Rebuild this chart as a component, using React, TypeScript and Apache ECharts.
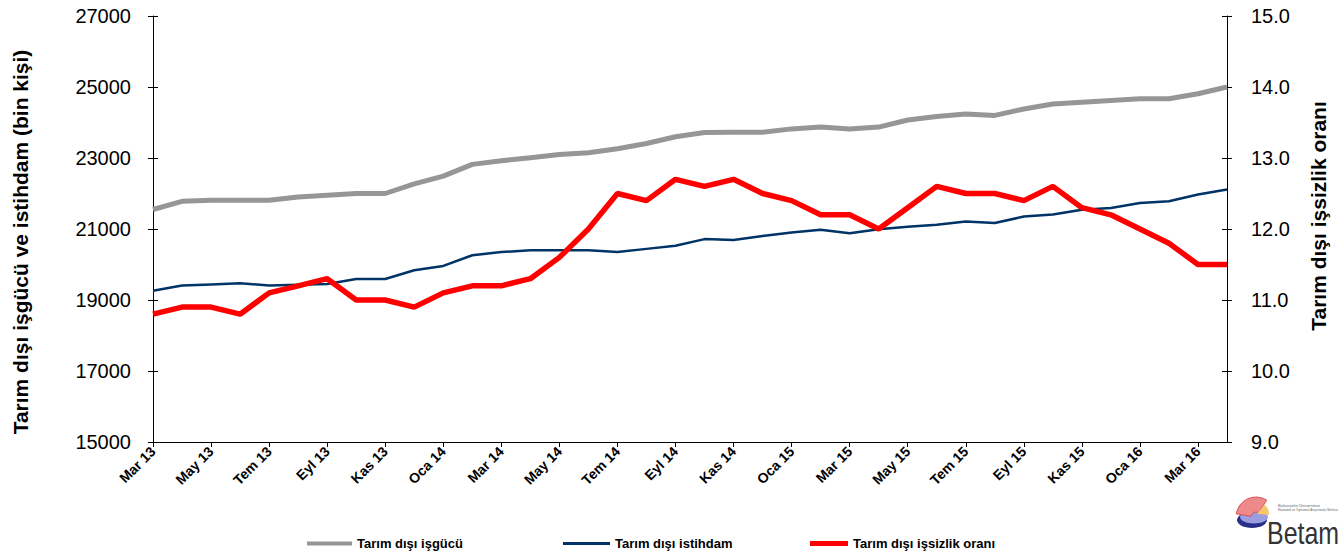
import React, { useEffect, useRef } from "react";
import * as echarts from "echarts";

const categories: string[] = [
  "Mar 13", "Nis 13", "May 13", "Haz 13", "Tem 13", "Ağu 13", "Eyl 13", "Eki 13", "Kas 13", "Ara 13",
  "Oca 14", "Şub 14", "Mar 14", "Nis 14", "May 14", "Haz 14", "Tem 14", "Ağu 14", "Eyl 14", "Eki 14", "Kas 14", "Ara 14",
  "Oca 15", "Şub 15", "Mar 15", "Nis 15", "May 15", "Haz 15", "Tem 15", "Ağu 15", "Eyl 15", "Eki 15", "Kas 15", "Ara 15",
  "Oca 16", "Şub 16", "Mar 16", "Nis 16",
];

const isgucu: number[] = [
  21550, 21780, 21810, 21810, 21810, 21900, 21950, 22000, 22000, 22270,
  22490, 22820, 22920, 23010, 23100, 23150, 23260, 23410, 23600, 23720,
  23725, 23725, 23820, 23870, 23820, 23870, 24070, 24170, 24240, 24200,
  24380, 24520, 24570, 24620, 24670, 24670, 24810, 25000,
];

const istihdam: number[] = [
  19260, 19410, 19440, 19470, 19410, 19430, 19450, 19590, 19590, 19840,
  19960, 20260, 20350, 20400, 20400, 20400, 20350, 20440, 20530, 20715,
  20690, 20800, 20900, 20980, 20880, 20990, 21060, 21120, 21210, 21170,
  21350, 21410, 21540, 21590, 21730, 21780, 21970, 22110,
];

const issizlikOrani: number[] = [
  10.8, 10.9, 10.9, 10.8, 11.1, 11.2, 11.3, 11.0, 11.0, 10.9,
  11.1, 11.2, 11.2, 11.3, 11.6, 12.0, 12.5, 12.4, 12.7, 12.6,
  12.7, 12.5, 12.4, 12.2, 12.2, 12.0, 12.3, 12.6, 12.5, 12.5,
  12.4, 12.6, 12.3, 12.2, 12.0, 11.8, 11.5, 11.5,
];

const seriesNames = ["Tarım dışı işgücü", "Tarım dışı istihdam", "Tarım dışı işsizlik oranı"];
const leftAxisName = "Tarım dışı işgücü ve istihdam (bin kişi)";
const rightAxisName = "Tarım dışı işsizlik oranı";

const FONT = "'Liberation Sans', Arial, sans-serif";

export default function App() {
  const ref = useRef<HTMLDivElement>(null);
  useEffect(() => {
    if (!ref.current) return;
    const chart = echarts.init(ref.current, null, { renderer: "svg" });
    const legendText = { fontFamily: FONT, fontWeight: "bold" as const, fontSize: 13, color: "#000" };
    chart.setOption({
      animation: false,
      backgroundColor: "#fff",
      textStyle: { fontFamily: FONT },
      grid: { left: 153, right: 116, top: 16, bottom: 111, containLabel: false },
      legend: [
        { data: [seriesNames[0]], icon: "rect", left: 302, top: 532, itemWidth: 45, itemHeight: 4, itemGap: 5, textStyle: legendText },
        { data: [seriesNames[1]], icon: "rect", left: 558, top: 532, itemWidth: 47, itemHeight: 3, itemGap: 5, textStyle: legendText },
        { data: [seriesNames[2]], icon: "rect", left: 805, top: 532, itemWidth: 38, itemHeight: 5, itemGap: 5, textStyle: legendText },
      ],
      xAxis: {
        type: "category",
        data: categories,
        boundaryGap: false,
        axisLine: { lineStyle: { color: "#000", width: 1 } },
        axisTick: { interval: 1, length: 5, lineStyle: { color: "#000" } },
        axisLabel: {
          interval: 1,
          rotate: 45,
          fontSize: 14,
          fontWeight: "bold",
          color: "#000",
          fontFamily: FONT,
          margin: 7,
        },
        splitLine: { show: false },
      },
      yAxis: [
        {
          type: "value",
          min: 15000,
          max: 27000,
          interval: 2000,
          position: "left",
          axisLine: { show: true, lineStyle: { color: "#000", width: 1 } },
          axisTick: { show: true, length: 5, lineStyle: { color: "#000" } },
          axisLabel: { fontSize: 20, color: "#000", margin: 22, fontFamily: FONT, formatter: (v: number) => String(v) },
          splitLine: { show: false },
        },
        {
          type: "value",
          min: 9,
          max: 15,
          interval: 1,
          position: "right",
          axisLine: { show: true, lineStyle: { color: "#000", width: 1 } },
          axisTick: { show: true, length: 5, lineStyle: { color: "#000" } },
          axisLabel: { fontSize: 20, color: "#000", margin: 24, fontFamily: FONT, formatter: (v: number) => v.toFixed(1) },
          splitLine: { show: false },
        },
        {
          type: "value",
          min: 15000,
          max: 27000,
          interval: 2000,
          position: "left",
          axisLine: { show: false },
          axisTick: { show: true, inside: true, length: 5, lineStyle: { color: "#000" } },
          axisLabel: { show: false },
          splitLine: { show: false },
        },
        {
          type: "value",
          min: 9,
          max: 15,
          interval: 1,
          position: "right",
          axisLine: { show: false },
          axisTick: { show: true, inside: true, length: 5, lineStyle: { color: "#000" } },
          axisLabel: { show: false },
          splitLine: { show: false },
        },
      ],
      series: [
        {
          name: seriesNames[0],
          type: "line",
          data: isgucu,
          yAxisIndex: 0,
          showSymbol: false,
          symbol: "none",
          lineStyle: { color: "#969696", width: 5 },
          itemStyle: { color: "#969696" },
          z: 2,
        },
        {
          name: seriesNames[1],
          type: "line",
          data: istihdam,
          yAxisIndex: 0,
          showSymbol: false,
          symbol: "none",
          lineStyle: { color: "#003366", width: 2.5 },
          itemStyle: { color: "#003366" },
          z: 3,
        },
        {
          name: seriesNames[2],
          type: "line",
          data: issizlikOrani,
          yAxisIndex: 1,
          showSymbol: false,
          symbol: "none",
          lineStyle: { color: "#ff0000", width: 5.5 },
          itemStyle: { color: "#ff0000" },
          z: 4,
        },
      ],
      graphic: [
        {
          type: "text",
          x: 20,
          y: 242,
          rotation: Math.PI / 2,
          style: { text: leftAxisName, fontSize: 21, fontWeight: "bold", fill: "#000", fontFamily: FONT, align: "center", verticalAlign: "middle" },
        },
        {
          type: "text",
          x: 1318,
          y: 216,
          rotation: Math.PI / 2,
          style: { text: rightAxisName, fontSize: 21, fontWeight: "bold", fill: "#000", fontFamily: FONT, align: "center", verticalAlign: "middle" },
        },
        { type: "ellipse", shape: { cx: 1252, cy: 520, rx: 15, ry: 8 }, style: { fill: "#2a2f8a" } },
        { type: "ellipse", shape: { cx: 1254, cy: 517, rx: 14, ry: 6.5 }, style: { fill: "#9a9de0" } },
        {
          type: "sector",
          shape: { cx: 1256, cy: 517, r: 20, r0: 5, startAngle: Math.PI * 1.05, endAngle: Math.PI * 1.68 },
          style: { fill: "#ee8a8a", stroke: "#d65555", lineWidth: 1 },
        },
        {
          type: "sector",
          shape: { cx: 1257, cy: 514, r: 12, r0: 0, startAngle: Math.PI * 1.72, endAngle: Math.PI * 2.02 },
          style: { fill: "#f6c66a" },
        },
        { type: "text", x: 1278, y: 503, style: { text: "Bahçeşehir Üniversitesi", fontSize: 4, fill: "#666", fontFamily: FONT } },
        { type: "text", x: 1278, y: 508, style: { text: "Ekonomik ve Toplumsal Araştırmalar Merkezi", fontSize: 3, fill: "#666", fontFamily: FONT } },
        {
          type: "text",
          x: 1267,
          y: 549,
          scaleX: 0.78,
          style: { text: "Betam", fontSize: 32, fill: "#333", fontFamily: FONT, align: "left", verticalAlign: "bottom" },
        },
      ],
    });
    return () => chart.dispose();
  }, []);
  return <div ref={ref} style={{ position: "fixed", left: 0, top: 0, width: 1343, height: 553 }} />;
}
